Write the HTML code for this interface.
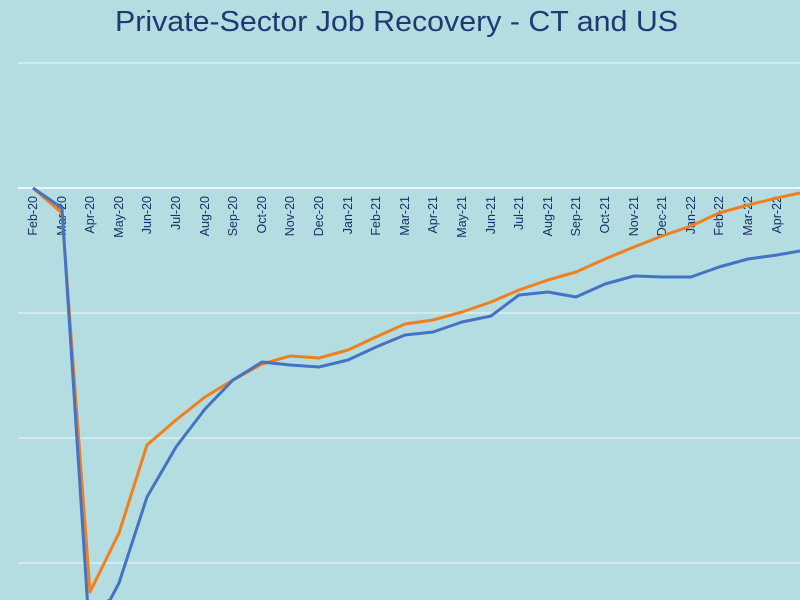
<!DOCTYPE html>
<html><head><style>
html,body{margin:0;padding:0;background:#b4dde1;}
</style></head><body>
<svg width="800" height="600" xmlns="http://www.w3.org/2000/svg" style="display:block">
<rect width="800" height="600" fill="#b4dde1"/>
<text x="115" y="31" textLength="563" lengthAdjust="spacingAndGlyphs" font-family="Liberation Sans, sans-serif" font-size="29" fill="#1f3a72">Private-Sector Job Recovery - CT and US</text>
<g stroke="#e4f2f3" stroke-width="1.2">
<line x1="18" y1="63" x2="800" y2="63"/>
<line x1="18" y1="313" x2="800" y2="313"/>
<line x1="18" y1="438" x2="800" y2="438"/>
<line x1="18" y1="563" x2="800" y2="563"/>
</g>
<line x1="18" y1="188" x2="800" y2="188" stroke="#ffffff" stroke-width="1.5"/>
<g font-family="Liberation Sans, sans-serif" font-size="12.5" fill="#1a3068" text-anchor="end">
<text transform="translate(37,196) rotate(-90)">Feb-20</text>
<text transform="translate(66,196) rotate(-90)">Mar-20</text>
<text transform="translate(94,196) rotate(-90)">Apr-20</text>
<text transform="translate(123,196) rotate(-90)">May-20</text>
<text transform="translate(151,196) rotate(-90)">Jun-20</text>
<text transform="translate(180,196) rotate(-90)">Jul-20</text>
<text transform="translate(209,196) rotate(-90)">Aug-20</text>
<text transform="translate(237,196) rotate(-90)">Sep-20</text>
<text transform="translate(266,196) rotate(-90)">Oct-20</text>
<text transform="translate(294,196) rotate(-90)">Nov-20</text>
<text transform="translate(323,196) rotate(-90)">Dec-20</text>
<text transform="translate(352,196) rotate(-90)">Jan-21</text>
<text transform="translate(380,196) rotate(-90)">Feb-21</text>
<text transform="translate(409,196) rotate(-90)">Mar-21</text>
<text transform="translate(437,196) rotate(-90)">Apr-21</text>
<text transform="translate(466,196) rotate(-90)">May-21</text>
<text transform="translate(495,196) rotate(-90)">Jun-21</text>
<text transform="translate(523,196) rotate(-90)">Jul-21</text>
<text transform="translate(552,196) rotate(-90)">Aug-21</text>
<text transform="translate(580,196) rotate(-90)">Sep-21</text>
<text transform="translate(609,196) rotate(-90)">Oct-21</text>
<text transform="translate(638,196) rotate(-90)">Nov-21</text>
<text transform="translate(666,196) rotate(-90)">Dec-21</text>
<text transform="translate(695,196) rotate(-90)">Jan-22</text>
<text transform="translate(723,196) rotate(-90)">Feb-22</text>
<text transform="translate(752,196) rotate(-90)">Mar-22</text>
<text transform="translate(781,196) rotate(-90)">Apr-22</text>
</g>
<polyline fill="none" stroke="#f07f1e" stroke-width="3" stroke-linejoin="round" points="33,188 62,213 90,592 119,533 147,445 176,420 205,397 233,380 262,364 290,356 319,358 348,350 376,337 405,324 433,320 462,312 491,302 519,290 548,280 576,272 605,259 634,247 662,236 691,226 719,213 748,205 777,198 800,193"/>
<polyline fill="none" stroke="#4472c4" stroke-width="3" stroke-linejoin="round" points="33,188 62,208 88,610 110,600 119,583 147,497 176,447 205,409 233,380 262,362 290,365 319,367 348,360 376,347 405,335 433,332 462,322 491,316 519,295 548,292 576,297 605,284 634,276 662,277 691,277 719,267 748,259 777,255 800,251"/>
</svg>
</body></html>
